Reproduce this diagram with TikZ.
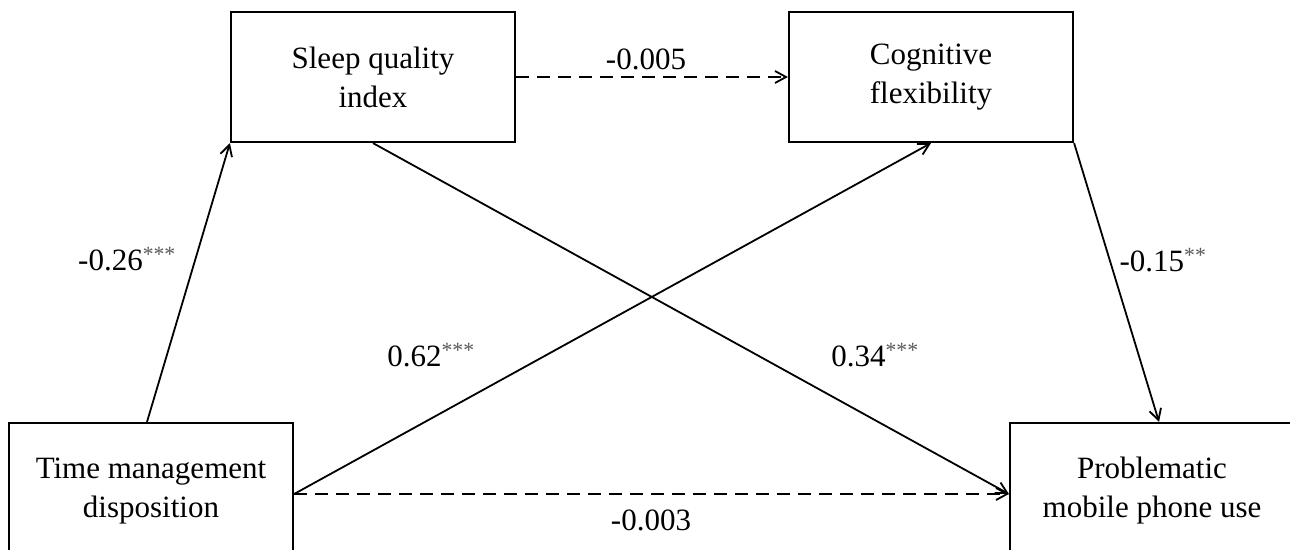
\documentclass[tikz,border=0pt]{standalone}
\usepackage{fontspec}
\setmainfont{Liberation Serif}
\usetikzlibrary{arrows.meta}
\tikzset{
  every node/.style={font=\fontsize{31}{39}\selectfont},
  box/.style={draw, line width=2.2pt, rectangle, inner sep=0pt, align=center, minimum width=284pt},
  topbox/.style={box, minimum height=130pt},
  botbox/.style={box, minimum height=136pt},
  conn/.style={line width=1.8pt, -{Straight Barb[length=11pt,width=12pt,line width=1.8pt]}},
  dconn/.style={conn, dash pattern=on 13pt off 8pt},
  lbl/.style={inner sep=0pt},
}
\newcommand{\stars}[1]{\textsuperscript{\textcolor{black!65}{#1}}}
\begin{document}
\begin{tikzpicture}[x=1pt,y=-1pt]
\fill[white] (0,0) rectangle (1290,549);
\clip (0,0) rectangle (1290,549);
\node[topbox] (sqi) at (373,77) {Sleep quality\\index};
\node[topbox] (cf) at (931,77) {Cognitive\\flexibility};
\node[botbox] (tmd) at (151,491) {Time management\\disposition};
\node[botbox] (pm) at (1152,491) {Problematic\\mobile phone use};
\draw[conn] ([xshift=-4pt]tmd.north) -- (sqi.south west);
\draw[conn] ([yshift=-3pt]tmd.east) -- (cf.south);
\draw[dconn] ([yshift=-3pt]tmd.east) -- ([yshift=-3pt]pm.west);
\draw[conn] (sqi.south) -- ([yshift=-3pt]pm.west);
\draw[conn] (cf.south east) -- ([xshift=7pt]pm.north);
\draw[dconn] (sqi.east) -- (cf.west);
\node[lbl] (l1) at (127,259) {-0.26\stars{***}};
\node[lbl] (l2) at (646,59) {-0.005};
\node[lbl] (l3) at (1163,260) {-0.15\stars{**}};
\node[lbl] (l4) at (431,355) {0.62\stars{***}};
\node[lbl] (l5) at (875,355) {0.34\stars{***}};
\node[lbl] (l6) at (651,520) {-0.003};
\end{tikzpicture}
\end{document}
